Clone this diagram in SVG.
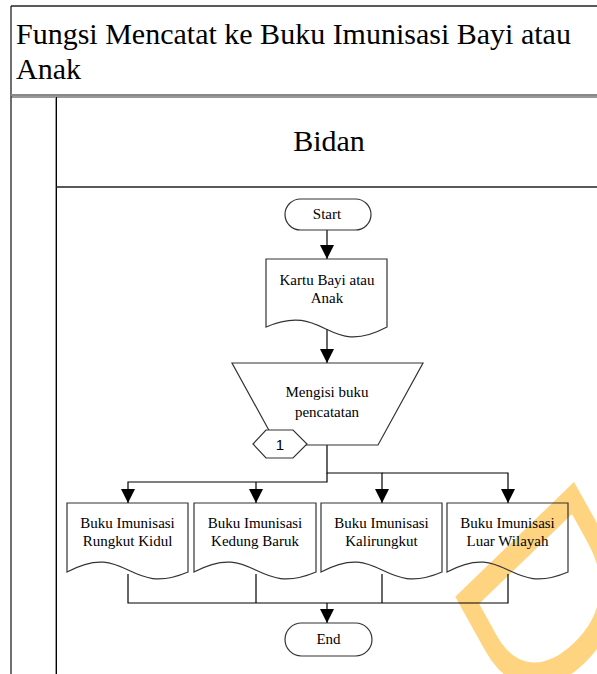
<svg xmlns="http://www.w3.org/2000/svg" width="597" height="674" viewBox="0 0 597 674">
  <defs>
    <marker id="arrow" markerUnits="userSpaceOnUse" markerWidth="14" markerHeight="14" refX="14" refY="7" orient="auto">
      <path d="M0,0 L14,7 L0,14 z" fill="#000"/>
    </marker>
    <style>
      .frame { fill: none; stroke: #222; stroke-width: 1.3; }
      .shape { fill: none; stroke: #333; stroke-width: 1.2; }
      .link { fill: none; stroke: #000; stroke-width: 1.2; }
      .t { font-family: "Liberation Serif", "Times New Roman", Times, serif; font-size: 15px; fill: #000; text-anchor: middle; }
      .big { font-family: "Liberation Serif", "Times New Roman", Times, serif; font-size: 30px; fill: #000; }
      .num { font-family: "Liberation Sans", Arial, sans-serif; font-size: 15px; fill: #000; text-anchor: middle; }
      .mark { font-family: "Liberation Sans", Arial, sans-serif; font-size: 160px; fill: #FFD480; }
    </style>
  </defs>

  <rect width="597" height="674" fill="#fff"/>

  <!-- pale watermark letter, drawn first so the diagram lines sit on top -->
  <g id="watermark">
    <text class="mark" transform="translate(445.8,579.4) rotate(46) skewY(15) scale(1.45,1.5)">D</text>
  </g>

  <!-- pool frame and swimlane -->
  <g id="pool">
    <line class="frame" x1="11" y1="6" x2="597" y2="6"/>
    <line class="frame" x1="11" y1="6" x2="11" y2="674"/>
    <text class="big" x="16" y="44">Fungsi Mencatat ke Buku Imunisasi Bayi atau</text>
    <text class="big" x="16" y="79">Anak</text>
    <line x1="11" y1="95" x2="597" y2="95" stroke="#888" stroke-width="2"/>
    <line x1="11" y1="97" x2="597" y2="97" stroke="#333" stroke-width="1"/>
  </g>
  <g id="lane-bidan">
    <line x1="55.5" y1="97" x2="55.5" y2="674" stroke="#999" stroke-width="1"/>
    <line x1="56.5" y1="97" x2="56.5" y2="674" stroke="#000" stroke-width="1"/>
    <line class="frame" x1="56" y1="187" x2="597" y2="187"/>
    <text class="big" x="329" y="151" text-anchor="middle">Bidan</text>
  </g>

  <!-- connectors -->
  <g id="connectors">
    <line class="link" x1="327" y1="230" x2="327" y2="259" marker-end="url(#arrow)"/>
    <line class="link" x1="327" y1="329" x2="327" y2="363" marker-end="url(#arrow)"/>
    <polyline class="link" points="327,445 327,473 382,473 382,503" marker-end="url(#arrow)"/>
    <polyline class="link" points="382,473 508,473 508,503" marker-end="url(#arrow)"/>
    <polyline class="link" points="327,473 327,482 128,482 128,503" marker-end="url(#arrow)"/>
    <polyline class="link" points="256,482 256,503" marker-end="url(#arrow)"/>
    <polyline class="link" points="128,574 128,603 508,603 508,574"/>
    <line class="link" x1="256" y1="574" x2="256" y2="603"/>
    <line class="link" x1="382" y1="574" x2="382" y2="603"/>
    <line class="link" x1="327" y1="603" x2="327" y2="623" marker-end="url(#arrow)"/>
  </g>

  <!-- nodes -->
  <g id="start">
    <rect class="shape" x="285" y="199" width="86" height="31" rx="15.5"/>
    <text class="t" x="327" y="219">Start</text>
  </g>

  <g id="kartu-bayi">
    <path class="shape" d="M266,259 H387 V327 C326.5,359 326.5,301 266,327 Z"/>
    <text class="t" x="327" y="285">Kartu Bayi atau</text>
    <text class="t" x="327" y="303">Anak</text>
  </g>

  <g id="mengisi-buku">
    <path class="shape" d="M232,363 H423 L378,445 H277 Z"/>
    <text class="t" x="327" y="397">Mengisi buku</text>
    <text class="t" x="327" y="417">pencatatan</text>
  </g>

  <g id="offpage-1">
    <path d="M253,444 L266,430 H293 L307,444 L293,458 H266 Z" fill="#fff" stroke="#333" stroke-width="1.2"/>
    <text class="num" x="280" y="450">1</text>
  </g>

  <g id="buku-rungkut-kidul">
    <path class="shape" d="M67,503 H188 V572 C127.5,598 127.5,540 67,572 Z"/>
    <text class="t" x="127.5" y="528">Buku Imunisasi</text>
    <text class="t" x="127.5" y="546">Rungkut Kidul</text>
  </g>

  <g id="buku-kedung-baruk">
    <path class="shape" d="M194,503 H316 V572 C255,598 255,540 194,572 Z"/>
    <text class="t" x="255" y="528">Buku Imunisasi</text>
    <text class="t" x="255" y="546">Kedung Baruk</text>
  </g>

  <g id="buku-kalirungkut">
    <path class="shape" d="M321,503 H442 V572 C381.5,598 381.5,540 321,572 Z"/>
    <text class="t" x="381.5" y="528">Buku Imunisasi</text>
    <text class="t" x="381.5" y="546">Kalirungkut</text>
  </g>

  <g id="buku-luar-wilayah">
    <path class="shape" d="M447,503 H568 V572 C507.5,598 507.5,540 447,572 Z"/>
    <text class="t" x="507.5" y="528">Buku Imunisasi</text>
    <text class="t" x="507.5" y="546">Luar Wilayah</text>
  </g>

  <g id="end">
    <rect class="shape" x="285" y="623" width="87" height="33" rx="16.5"/>
    <text class="t" x="328.5" y="644">End</text>
  </g>
</svg>
